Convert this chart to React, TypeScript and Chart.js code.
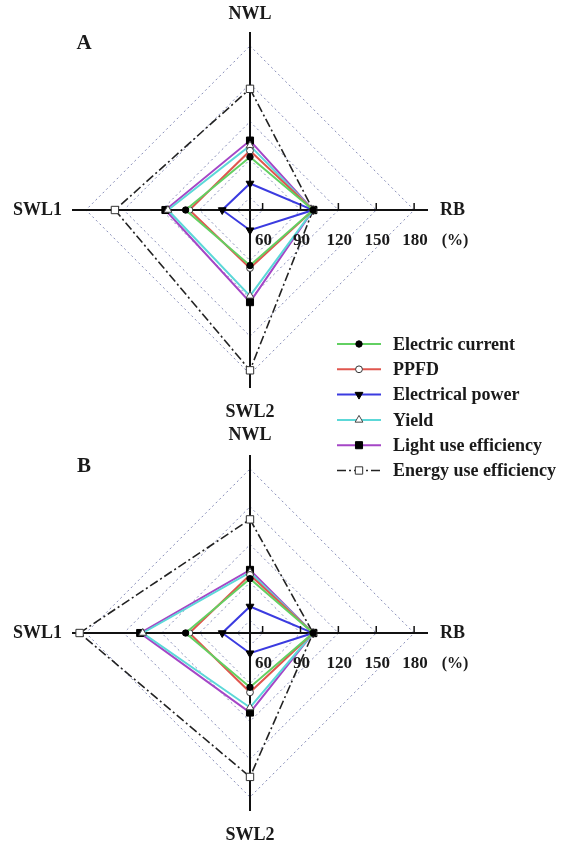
import React, { useEffect, useRef } from 'react';
import { Chart, registerables } from 'chart.js';

Chart.register(...registerables);

// ---------- data ----------
const AXIS_LABELS = ['NWL', 'RB', 'SWL2', 'SWL1'];
const TICK_VALUES = [60, 90, 120, 150, 180];
const TICK_LABELS = ['60', '90', '120', '150', '180'];
const UNIT_LABEL = '(%)';
const SCALE_MIN = 50;
const SCALE_MAX = 191;

const SERIES_NAMES = [
  'Electric current',
  'PPFD',
  'Electrical power',
  'Yield',
  'Light use efficiency',
  'Energy use efficiency',
];

// Panel A  (order: NWL, RB, SWL2, SWL1)
const A_ELECTRIC_CURRENT = [92, 100, 94, 101];
const A_PPFD = [97, 100, 96, 98];
const A_ELECTRICAL_POWER = [71, 100, 66, 72];
const A_YIELD = [101, 100, 118, 115];
const A_LIGHT_USE_EFF = [105, 100, 123, 117];
const A_ENERGY_USE_EFF = [146, 100, 177, 157];

// Panel B
const B_ELECTRIC_CURRENT = [93, 100, 93, 101];
const B_PPFD = [96, 100, 97, 98];
const B_ELECTRICAL_POWER = [71, 100, 66, 72];
const B_YIELD = [98, 100, 109, 135];
const B_LIGHT_USE_EFF = [100, 100, 113, 137];
const B_ENERGY_USE_EFF = [140, 100, 164, 185];

// ---------- styles ----------
const FONT = '"Liberation Serif", "Times New Roman", serif';
const TEXT = '#1a1a1a';

type Style = {
  color: string;
  pointStyle: 'circle' | 'triangle' | 'rect';
  rotation: number;
  radius: number;
  fill: string;
  stroke: string;
  dash: number[];
  width: number;
};

const STYLES: Style[] = [
  { color: '#62d062', pointStyle: 'circle', rotation: 0, radius: 3.2, fill: '#000', stroke: '#000', dash: [], width: 2 },
  { color: '#e0564e', pointStyle: 'circle', rotation: 0, radius: 3.4, fill: '#fff', stroke: '#333', dash: [], width: 2 },
  { color: '#3b3be0', pointStyle: 'triangle', rotation: 180, radius: 4.5, fill: '#000', stroke: '#000', dash: [], width: 2 },
  { color: '#5cd8d8', pointStyle: 'triangle', rotation: 0, radius: 4.5, fill: '#fff', stroke: '#444', dash: [], width: 2 },
  { color: '#a546c6', pointStyle: 'rect', rotation: 0, radius: 5, fill: '#000', stroke: '#000', dash: [], width: 2 },
  { color: '#222', pointStyle: 'rect', rotation: 0, radius: 5.2, fill: '#fff', stroke: '#333', dash: [9, 3, 2, 3], width: 1.6 },
];

function makeDatasets(values: number[][]) {
  return values.map((data, i) => {
    const s = STYLES[i];
    return {
      label: SERIES_NAMES[i],
      data,
      borderColor: s.color,
      borderWidth: s.width,
      borderDash: s.dash,
      fill: false,
      tension: 0,
      pointStyle: s.pointStyle,
      pointRotation: s.rotation,
      pointRadius: s.radius,
      pointBackgroundColor: s.fill,
      pointBorderColor: s.stroke,
      pointBorderWidth: 1,
      pointHoverRadius: s.radius,
    };
  });
}

function drawMarker(ctx: CanvasRenderingContext2D, s: Style, x: number, y: number) {
  ctx.save();
  ctx.fillStyle = s.fill;
  ctx.strokeStyle = s.stroke;
  ctx.lineWidth = 1;
  ctx.setLineDash([]);
  ctx.beginPath();
  const r = s.radius;
  if (s.pointStyle === 'circle') {
    ctx.arc(x, y, r, 0, Math.PI * 2);
  } else if (s.pointStyle === 'triangle') {
    let rad = (s.rotation * Math.PI) / 180;
    ctx.moveTo(x + Math.sin(rad) * r, y - Math.cos(rad) * r);
    rad += (2 * Math.PI) / 3;
    ctx.lineTo(x + Math.sin(rad) * r, y - Math.cos(rad) * r);
    rad += (2 * Math.PI) / 3;
    ctx.lineTo(x + Math.sin(rad) * r, y - Math.cos(rad) * r);
    ctx.closePath();
  } else {
    const h = Math.SQRT1_2 * r;
    ctx.rect(x - h, y - h, 2 * h, 2 * h);
  }
  ctx.fill();
  ctx.stroke();
  ctx.restore();
}

const decorPlugin = {
  id: 'decor',
  afterDraw(chart: any, _args: any, opts: any) {
    const ctx: CanvasRenderingContext2D = chart.ctx;
    const scale = chart.scales.r;
    const cx = scale.xCenter;
    const cy = scale.yCenter;
    const R = scale.drawingArea;
    ctx.save();
    ctx.fillStyle = TEXT;
    ctx.strokeStyle = '#111';

    // tick marks and labels along RB axis
    ctx.lineWidth = 1.5;
    ctx.font = `bold 17px ${FONT}`;
    ctx.textAlign = 'center';
    ctx.textBaseline = 'middle';
    TICK_VALUES.forEach((v, i) => {
      const p = scale.getPointPositionForValue(1, v);
      ctx.beginPath();
      ctx.moveTo(p.x, cy);
      ctx.lineTo(p.x, cy - 7);
      ctx.stroke();
      ctx.fillText(TICK_LABELS[i], p.x + 1, cy + 31);
    });
    const pEnd = scale.getPointPositionForValue(1, TICK_VALUES[TICK_VALUES.length - 1]);
    ctx.font = `bold 16px ${FONT}`;
    ctx.fillText(UNIT_LABEL, pEnd.x + 41, cy + 31);

    // axis labels
    ctx.font = `bold 18px ${FONT}`;
    let p = scale.getPointPosition(0, R + opts.topGap);
    ctx.textAlign = 'center';
    ctx.fillText(AXIS_LABELS[0], p.x, p.y);
    p = scale.getPointPosition(1, R + 12);
    ctx.textAlign = 'left';
    ctx.fillText(AXIS_LABELS[1], p.x, p.y);
    p = scale.getPointPosition(2, R + 24);
    ctx.textAlign = 'center';
    ctx.fillText(AXIS_LABELS[2], p.x, p.y);
    p = scale.getPointPosition(3, R + 10);
    ctx.textAlign = 'right';
    ctx.fillText(AXIS_LABELS[3], p.x, p.y);

    // panel letter
    ctx.font = `bold 21px ${FONT}`;
    ctx.textAlign = 'center';
    ctx.fillText(opts.letter, cx - 166, cy - 166);

    // legend
    if (opts.legend) {
      const x0 = 337;
      const x1 = 381;
      const y0 = 344;
      const step = 25.3;
      chart.data.datasets.forEach((ds: any, i: number) => {
        const s = STYLES[i];
        const y = y0 + i * step;
        ctx.save();
        ctx.strokeStyle = s.color;
        ctx.lineWidth = s.width;
        ctx.setLineDash(s.dash);
        ctx.beginPath();
        ctx.moveTo(x0, y);
        ctx.lineTo(x1, y);
        ctx.stroke();
        ctx.restore();
        drawMarker(ctx, s, (x0 + x1) / 2, y);
        ctx.fillStyle = TEXT;
        ctx.font = `bold 18px ${FONT}`;
        ctx.textAlign = 'left';
        ctx.textBaseline = 'middle';
        ctx.fillText(ds.label, 393, y + 1);
      });
    }
    ctx.restore();
  },
};

function makeConfig(values: number[][], padding: any, letter: string, legend: boolean, topGap: number): any {
  return {
    type: 'radar',
    data: { labels: AXIS_LABELS, datasets: makeDatasets(values) },
    plugins: [decorPlugin],
    options: {
      responsive: false,
      animation: false,
      events: [],
      layout: { padding },
      plugins: {
        legend: { display: false },
        tooltip: { enabled: false },
        decor: { letter, legend, topGap },
      },
      scales: {
        r: {
          min: SCALE_MIN,
          max: SCALE_MAX,
          beginAtZero: false,
          afterBuildTicks: (scale: any) => {
            scale.ticks = [SCALE_MIN, ...TICK_VALUES].map((value) => ({ value }));
          },
          ticks: { display: false },
          pointLabels: { display: false },
          angleLines: { display: true, color: '#111', lineWidth: 2 },
          grid: { color: 'rgba(120,126,175,0.9)', lineWidth: 1 },
          border: { dash: [2, 3] },
        },
      },
    },
  };
}

export default function App() {
  const refA = useRef<HTMLCanvasElement>(null);
  const refB = useRef<HTMLCanvasElement>(null);

  useEffect(() => {
    const chartA = new Chart(
      refA.current as HTMLCanvasElement,
      makeConfig(
        [A_ELECTRIC_CURRENT, A_PPFD, A_ELECTRICAL_POWER, A_YIELD, A_LIGHT_USE_EFF, A_ENERGY_USE_EFF],
        { left: 72, right: 135, top: 32, bottom: 460 },
        'A',
        true,
        18
      )
    );
    const chartB = new Chart(
      refB.current as HTMLCanvasElement,
      makeConfig(
        [B_ELECTRIC_CURRENT, B_PPFD, B_ELECTRICAL_POWER, B_YIELD, B_LIGHT_USE_EFF, B_ENERGY_USE_EFF],
        { left: 72, right: 135, top: 455, bottom: 37 },
        'B',
        false,
        20
      )
    );
    return () => {
      chartA.destroy();
      chartB.destroy();
    };
  }, []);

  const canvasStyle: React.CSSProperties = { position: 'absolute', left: 0, top: 0 };
  return (
    <div style={{ position: 'absolute', left: 0, top: 0, width: 563, height: 848, background: '#fff' }}>
      <canvas ref={refA} width={563} height={848} style={canvasStyle} />
      <canvas ref={refB} width={563} height={848} style={canvasStyle} />
    </div>
  );
}
